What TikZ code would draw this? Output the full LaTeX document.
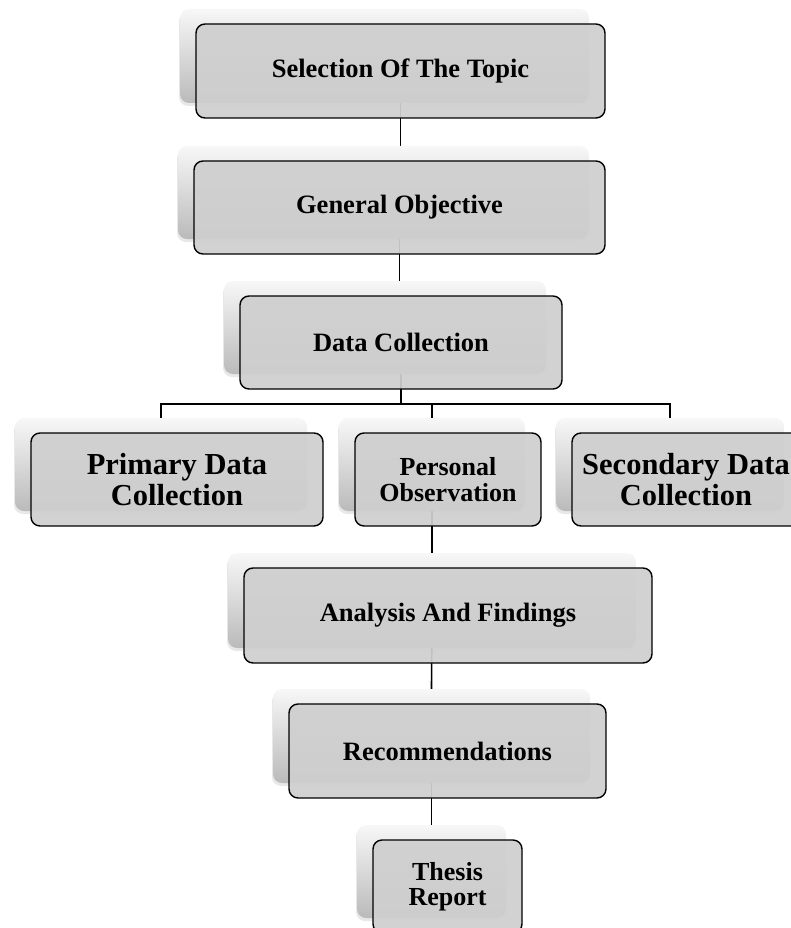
\documentclass[tikz,border=0pt]{standalone}
\usepackage{fontspec}
\setmainfont{Liberation Serif}
\usetikzlibrary{shadows}
\pgfdeclarelayer{bg}
\pgfsetlayers{bg,main}
\definecolor{boxgray}{RGB}{207,207,207}
\begin{document}
\begin{tikzpicture}[x=1pt,y=-1pt,
  back/.style={rounded corners=9pt, inner sep=0pt, top color=black!3, bottom color=black!27,
    drop shadow={shadow xshift=-1pt, shadow yshift=-3pt, opacity=0.18}},
  front/.style={draw=black, line width=1.4pt, rounded corners=9pt, inner sep=0pt,
    fill=boxgray, fill opacity=0.93, text opacity=1, align=center},
  mid/.style={font=\fontsize{26.5}{28}\selectfont\bfseries},
  small/.style={font=\fontsize{26}{25.5}\selectfont\bfseries},
  big/.style={font=\fontsize{30.5}{31}\selectfont\bfseries},
  conn/.style={draw=black, line width=1.6pt}]
\useasboundingbox (0,0) rectangle (791,928);
% 1 Selection
\node[back, minimum width=409pt, minimum height=94pt] (b1) at (384.5,56) {};
\node[front, mid, minimum width=409pt, minimum height=94pt] (f1) at (400.5,71) {Selection Of The Topic};
% 2 General
\node[back, minimum width=411pt, minimum height=93pt] (b2) at (383.5,192.5) {};
\node[front, mid, minimum width=411pt, minimum height=93pt] (f2) at (399.5,207.5) {General Objective};
% 3 Data Collection
\node[back, minimum width=322pt, minimum height=93pt] (b3) at (385,327.5) {};
\node[front, mid, minimum width=322pt, minimum height=93pt] (f3) at (401,342.5) {Data Collection};
% 4 Primary
\node[back, minimum width=292pt, minimum height=93pt] (b4) at (161,464.5) {};
\node[front, big, minimum width=292pt, minimum height=93pt] (f4) at (177,479.5) {Primary Data\\Collection};
% 5 Personal
\node[back, minimum width=186pt, minimum height=93pt] (b5) at (432,464.5) {};
\node[front, small, minimum width=186pt, minimum height=93pt] (f5) at (448,479.5) {Personal\\Observation};
% 6 Secondary
\node[back, minimum width=228pt, minimum height=93pt] (b6) at (670,464.5) {};
\node[front, big, minimum width=228pt, minimum height=93pt] (f6) at (686,479.5) {Secondary Data\\Collection};
% 7 Analysis
\node[back, minimum width=408pt, minimum height=95pt] (b7) at (432,600.5) {};
\node[front, mid, minimum width=408pt, minimum height=95pt] (f7) at (448,615.5) {Analysis And Findings};
% 8 Recommendations
\node[back, minimum width=317pt, minimum height=94pt] (b8) at (431.5,736) {};
\node[front, mid, minimum width=317pt, minimum height=94pt] (f8) at (447.5,751) {Recommendations};
% 9 Thesis
\node[back, minimum width=149pt, minimum height=93pt] (b9) at (431.5,871.5) {};
\node[front, small, minimum width=149pt, minimum height=93pt] (f9) at (447.5,886.5) {Thesis\\Report};
\coordinate (j) at (400,404);
\begin{pgfonlayer}{bg}
\draw[conn] (f1.center) -- (f1.center |- b2.north);
\draw[conn] (f2.center) -- (f2.center |- b3.north);
\draw[conn] (f3.center) -- (f3.center |- j);
\draw[conn] (b4.north) -- (b4.north |- j) -- (b6.north |- j) -- (b6.north);
\draw[conn] (b5.north |- j) -- (b5.north);
\draw[conn] (b5.center) -- (b7.north);
\draw[conn] (b7.center) -- (b8.north);
\draw[conn] (b8.center) -- (b9.north);
\end{pgfonlayer}
\end{tikzpicture}
\end{document}
